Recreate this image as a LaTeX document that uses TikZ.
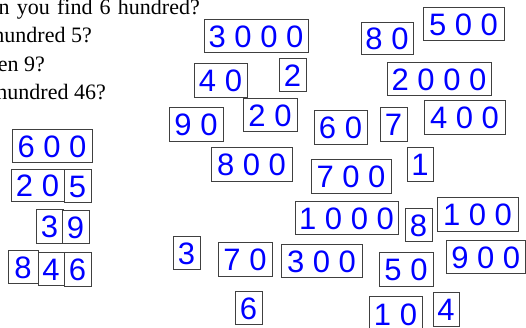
\documentclass[tikz,border=0pt]{standalone}
\usepackage{fontspec}
\newfontfamily\qfont{Liberation Serif}
\newfontfamily\dfont{Liberation Sans}
\definecolor{digblue}{RGB}{0,0,255}
\tikzset{
  card/.style={draw=black!75, line width=0.9pt, fill=white, text=digblue,
    font=\dfont\fontsize{31}{31}\selectfont, inner sep=0pt,
    text height=23.5pt, text depth=0pt},
  qtext/.style={font=\qfont\fontsize{22}{22}\selectfont, inner sep=0pt, anchor=base east, text=black}
}
% \cardat{name}{x1}{y1}{x2}{y2}{text}
\newcommand{\cardat}[6]{%
  \pgfmathsetmacro{\cx}{(#2+#4)/2}\pgfmathsetmacro{\cy}{(#3+#5)/2}%
  \pgfmathsetmacro{\cw}{#4-#2}\pgfmathsetmacro{\ch}{#5-#3}%
  \node[card, minimum width=\cw pt, minimum height=\ch pt] (#1) at (\cx,\cy) {#6};}
\begin{document}
\begin{tikzpicture}[x=1pt,y=-1pt]
\useasboundingbox (0,0) rectangle (526,328);
\clip (0,0) rectangle (526,328);
% question lines
\node[qtext] (q1) at (200,14.5) {\spaceskip=7.2pt n you find 6 hundred?};
\node[qtext] (q2) at (92,43) {hundred 5?};
\node[qtext] (q3) at (45,71.5) {en 9?};
\node[qtext] (q4) at (106,100) {hundred 46?};
% left column
\cardat{a600}{12}{129}{92}{162}{6 0 0}
\cardat{a20}{11}{169}{64}{201}{2 0}
\cardat{a5}{64}{169}{91}{202}{5}
\cardat{b3}{36}{209}{63}{243}{3}
\cardat{b9}{62}{210}{89}{243}{9}
\cardat{c8}{8}{250}{38}{283}{8}
\cardat{c4}{38}{252}{64}{285}{4}
\cardat{c6}{64}{252}{91}{286}{6}
% scattered cards
\cardat{k3000}{204}{19}{308}{52}{3 0 0 0}
\cardat{k40}{194}{63}{247}{97}{4 0}
\cardat{k2}{279}{58}{306}{91}{2}
\cardat{k20}{243}{98}{297}{131}{2 0}
\cardat{k90}{169}{107}{223}{141}{9 0}
\cardat{k60}{314}{110}{367}{144}{6 0}
\cardat{k800}{211}{147}{292}{181}{8 0 0}
\cardat{k700}{311}{159}{391}{193}{7 0 0}
\cardat{k1000}{295}{201}{398}{234}{1 0 0 0}
\cardat{k3}{173}{236}{200}{269}{3}
\cardat{k70}{218}{242}{272}{276}{7 0}
\cardat{k300}{281}{244}{362}{277}{3 0 0}
\cardat{k6}{235}{291}{262}{324}{6}
\cardat{k80}{361}{22}{413}{54}{8 0}
\cardat{k500}{423}{7}{504}{40}{5 0 0}
\cardat{k2000}{387}{62}{491}{95}{2 0 0 0}
\cardat{k7}{380}{107}{407}{141}{7}
\cardat{k400}{424}{100}{505}{134}{4 0 0}
\cardat{k1}{407}{147}{433}{181}{1}
\cardat{k8}{405}{208}{432}{241}{8}
\cardat{k100}{437}{197}{518}{231}{1 0 0}
\cardat{k900}{446}{240}{525.5}{273}{9 0 0}
\cardat{k50}{379}{252}{433}{286}{5 0}
\cardat{k10}{369}{296}{422}{332}{1 0}
\cardat{k4}{433}{292}{459}{326}{4}
\end{tikzpicture}
\end{document}
